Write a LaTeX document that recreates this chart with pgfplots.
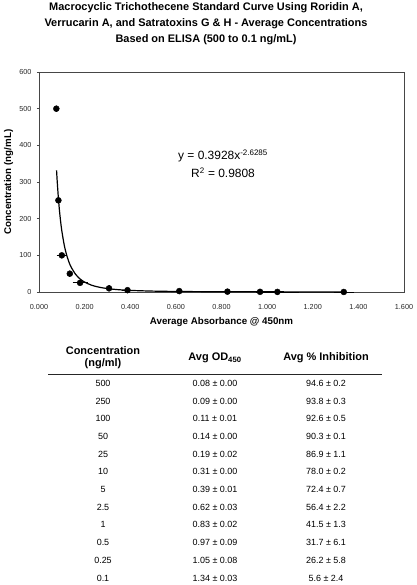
\documentclass[border=0pt]{standalone}
\usepackage{fontspec}
\setmainfont{Liberation Sans}
\usepackage{pgfplots}
\pgfplotsset{compat=1.18}
\definecolor{framegray}{RGB}{70,70,70}
\begin{document}
\begin{tikzpicture}
\path[use as bounding box] (0,0) rectangle (417bp,-585bp);
% title
\node[align=center,font=\fontsize{11}{16}\selectfont\bfseries] at (206bp,-24bp)
 {Macrocyclic Trichothecene Standard Curve Using Roridin A,\\Verrucarin A, and Satratoxins G \& H - Average Concentrations\\Based on ELISA (500 to 0.1 ng/mL)};
\begin{axis}[
  at={(39bp,-292bp)}, anchor=south west,
  width=365bp, height=220bp, scale only axis,
  xmin=0, xmax=1.6, ymin=0, ymax=600,
  axis line style={framegray, line width=0.8bp},
  xtick={0,0.2,0.4,0.6,0.8,1.0,1.2,1.4,1.6},
  xticklabels={0.000,0.200,0.400,0.600,0.800,1.000,1.200,1.400,1.600},
  ytick={0,100,200,300,400,500,600},
  yticklabels={0,100,200,300,400,500,600},
  xtick pos=bottom, ytick pos=left,
  tick align=outside,
  x tick style={draw=none},
  y tick style={framegray, line width=0.6bp},
  major tick length=2bp,
  tick label style={font=\fontsize{7.3}{8}\selectfont, text=black!85},
  xticklabel style={yshift=-7bp},
  yticklabel style={xshift=-2bp},
  xlabel={Average Absorbance @ 450nm},
  ylabel={Concentration (ng/mL)},
  label style={font=\fontsize{9.8}{11}\selectfont\bfseries},
  xlabel style={at={(axis description cs:0.5,0)}, anchor=center, yshift=-30bp},
  ylabel style={at={(axis description cs:-0.0835,0.5)}, anchor=center},
  clip=false,
]
% power trendline y = 0.3928 x^-2.6285
\addplot[black, line width=1.2bp, smooth, no markers] coordinates {
 (0.077,332.0) (0.080,300.2) (0.085,256.0) (0.090,220.3) (0.095,191.1)
 (0.100,167.0) (0.110,130.0) (0.120,103.4) (0.130,83.8) (0.140,69.0)
 (0.160,48.6) (0.180,35.6) (0.200,27.0) (0.230,18.7) (0.260,13.6)
 (0.300,9.3) (0.350,6.2) (0.400,4.37) (0.500,2.43) (0.600,1.50)
 (0.700,1.00) (0.850,0.60) (1.000,0.39) (1.150,0.27) (1.336,0.18)
};
\addplot[only marks, mark=*, mark size=3bp, black,
  error bars/.cd, x dir=both, x explicit,
  error bar style={black, line width=0.8bp},
  error mark options={black, line width=0.8bp, mark size=3bp}]
 coordinates {
 (0.076,500) +- (0,0)
 (0.085,250) +- (0,0)
 (0.100,100) +- (0.01,0)
 (0.135,50) +- (0,0)
 (0.180,25) +- (0.02,0)
 (0.307,10) +- (0,0)
 (0.388,5) +- (0.01,0)
 (0.615,2.5) +- (0.03,0)
 (0.826,1) +- (0.02,0)
 (0.969,0.5) +- (0.09,0)
 (1.045,0.25) +- (0.08,0)
 (1.336,0.1) +- (0.03,0)
};
\end{axis}
% equation
\node[font=\fontsize{12}{14}\selectfont] at (223bp,-156bp) {y = 0.3928x\textsuperscript{-2.6285}};
\node[font=\fontsize{12}{14}\selectfont] at (223bp,-173bp) {R\textsuperscript{2} = 0.9808};
% table header
\node[align=center,font=\fontsize{11}{11.8}\selectfont\bfseries] at (103bp,-357.5bp) {Concentration\\(ng/ml)};
\node[font=\fontsize{11}{13}\selectfont\bfseries] at (215bp,-357.7bp) {Avg OD\textsubscript{450}};
\node[font=\fontsize{11}{13}\selectfont\bfseries] at (326bp,-357.7bp) {Avg \% Inhibition};
\draw[black!85, line width=1bp] (48bp,-374bp) -- (382bp,-374bp);
% table rows
\foreach \a/\b/\c [count=\i from 0] in {
 500/0.08 ± 0.00/94.6 ± 0.2,
 250/0.09 ± 0.00/93.8 ± 0.3,
 100/0.11 ± 0.01/92.6 ± 0.5,
 50/0.14 ± 0.00/90.3 ± 0.1,
 25/0.19 ± 0.02/86.9 ± 1.1,
 10/0.31 ± 0.00/78.0 ± 0.2,
 5/0.39 ± 0.01/72.4 ± 0.7,
 2.5/0.62 ± 0.03/56.4 ± 2.2,
 1/0.83 ± 0.02/41.5 ± 1.3,
 0.5/0.97 ± 0.09/31.7 ± 6.1,
 0.25/1.05 ± 0.08/26.2 ± 5.8,
 0.1/1.34 ± 0.03/5.6 ± 2.4}{
 \pgfmathsetmacro{\yy}{-383.3-17.7*\i}
 \node[font=\fontsize{9}{11}\selectfont] at (103bp,\yy bp) {\a};
 \node[font=\fontsize{9}{11}\selectfont] at (215bp,\yy bp) {\b};
 \node[font=\fontsize{9}{11}\selectfont] at (326bp,\yy bp) {\c};
}
\end{tikzpicture}
\end{document}
